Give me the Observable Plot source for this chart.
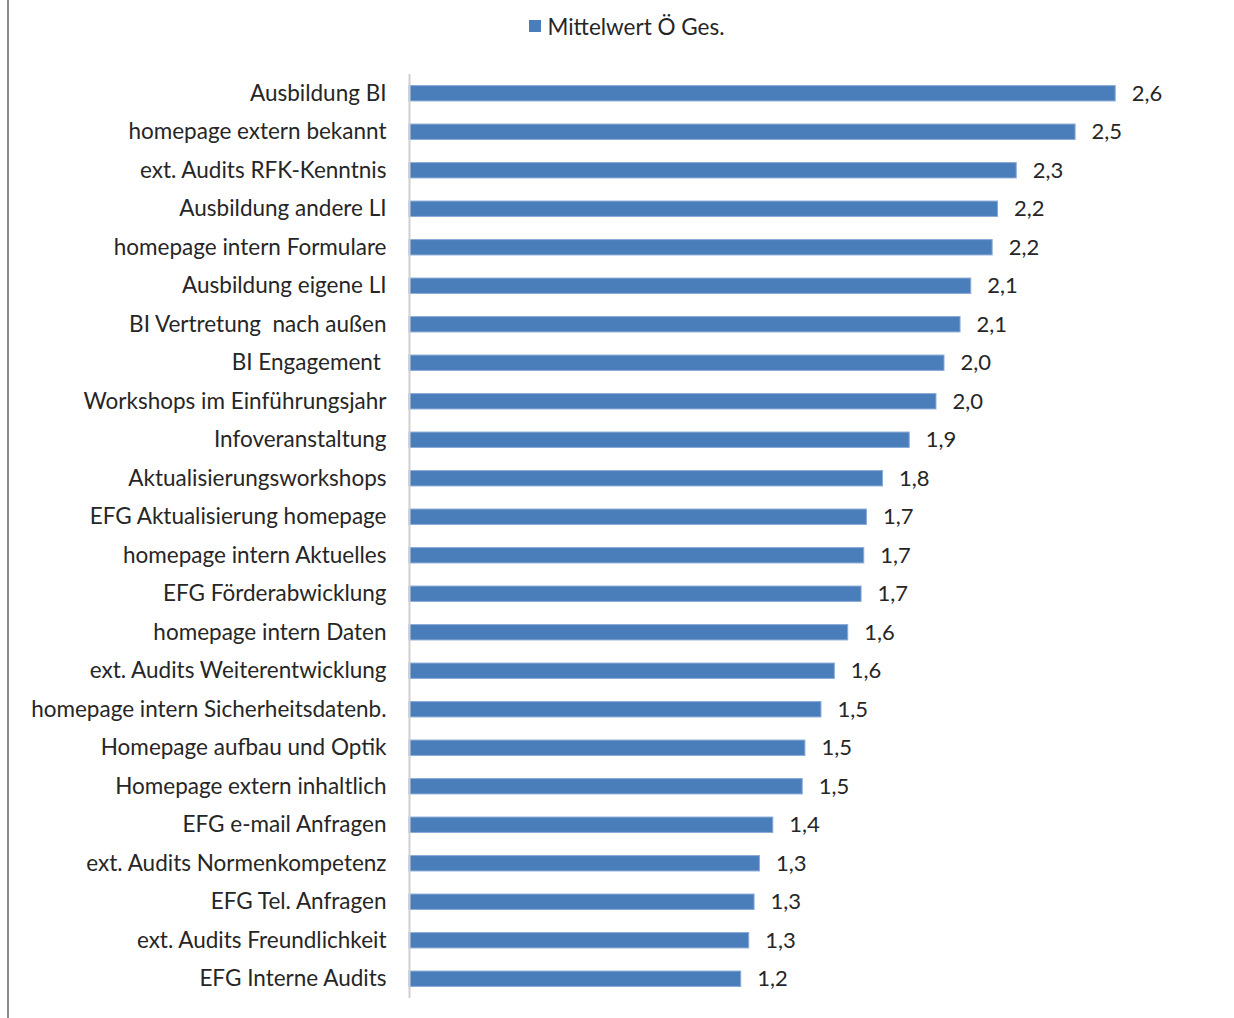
<!DOCTYPE html>
<html>
<head>
<meta charset="utf-8">
<script src="https://cdn.jsdelivr.net/npm/d3@7"></script>
<script src="https://cdn.jsdelivr.net/npm/@observablehq/plot@0.6"></script>
<style>
  html, body { margin: 0; padding: 0; background: #fff; }
  #wrap { position: relative; width: 1234px; height: 1018px; overflow: hidden; font-family: Lato, "Open Sans", sans-serif; }
  #border { position: absolute; left: 7px; top: 0; width: 0; height: 1018px; border-left: 2px solid #8c8c8c; }
  #legend { height: 50px; display: flex; justify-content: center; align-items: center; padding-top: 2px; padding-left: 20px; box-sizing: border-box; font-size: 22.5px; color: #262626; }
  #legend .sw { display: inline-block; width: 12px; height: 12px; background: #4a7ebb; margin-right: 6px; }
</style>
</head>
<body>
<div id="wrap">
  <div id="border"></div>
  <div id="legend"><span class="sw"></span><span id="legtext"></span></div>
  <div id="chart"></div>
</div>
<script>
const seriesName = "Mittelwert Ö Ges.";
const categories = [
  "Ausbildung BI",
  "homepage extern bekannt",
  "ext. Audits RFK-Kenntnis",
  "Ausbildung andere LI",
  "homepage intern Formulare",
  "Ausbildung eigene LI",
  "BI Vertretung  nach außen",
  "BI Engagement ",
  "Workshops im Einführungsjahr",
  "Infoveranstaltung",
  "Aktualisierungsworkshops",
  "EFG Aktualisierung homepage",
  "homepage intern Aktuelles",
  "EFG Förderabwicklung",
  "homepage intern Daten",
  "ext. Audits Weiterentwicklung",
  "homepage intern Sicherheitsdatenb.",
  "Homepage aufbau und Optik",
  "Homepage extern inhaltlich",
  "EFG e-mail Anfragen",
  "ext. Audits Normenkompetenz",
  "EFG Tel. Anfragen",
  "ext. Audits Freundlichkeit",
  "EFG Interne Audits"
];
const values = [
  2.64, 2.49, 2.27, 2.20, 2.18, 2.10, 2.06, 2.00, 1.97, 1.87, 1.77, 1.71,
  1.70, 1.69, 1.64, 1.59, 1.54, 1.48, 1.47, 1.36, 1.31, 1.29, 1.27, 1.24
];

const data = categories.map((c, i) => ({ cat: c, value: values[i] }));
const fmt = v => v.toFixed(1).replace(".", ",");

document.getElementById("legtext").textContent = seriesName;

const chart = Plot.plot({
  width: 1234,
  height: 968,
  marginTop: 24,
  marginBottom: 20,
  marginLeft: 409,
  marginRight: 22.5,
  style: { fontFamily: "Lato, 'Open Sans', sans-serif", fontSize: "22.5px", color: "#262626", background: "transparent" },
  x: { domain: [0, 3], axis: null },
  y: { domain: categories, paddingInner: 0.6, paddingOuter: 0.3, round: false, label: null },
  marks: [
    Plot.barX(data, { y: "cat", x: "value", fill: "#4a7ebb", stroke: "#8aaad6", strokeWidth: 1 }),
    Plot.ruleX([0], { stroke: "#d0d0d0", strokeWidth: 2 }),
    Plot.axisY({ tickSize: 0, tickPadding: 23, fontSize: 22.5, fill: "#262626", label: null }),
    Plot.text(data, { y: "cat", x: "value", text: d => fmt(d.value), dx: 16, textAnchor: "start", fontSize: 22, fill: "#262626" })
  ]
});
document.getElementById("chart").appendChild(chart);
</script>
</body>
</html>
